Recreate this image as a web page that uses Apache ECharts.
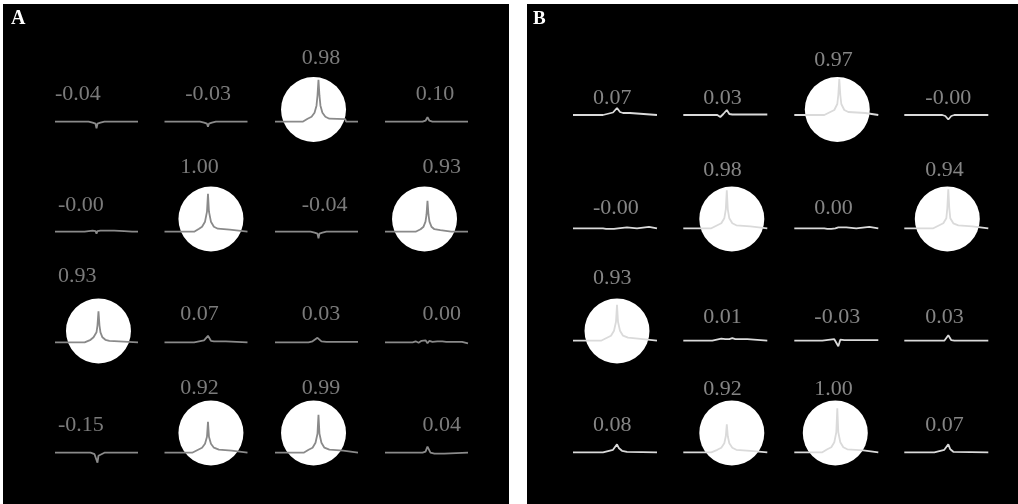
<!DOCTYPE html>
<html>
<head>
<meta charset="utf-8">
<script src="https://cdn.jsdelivr.net/npm/echarts@6/dist/echarts.min.js"></script>
<style>
  html, body { margin: 0; padding: 0; background: #fff; }
  #chart { width: 1018px; height: 504px; }
</style>
</head>
<body>
<div id="chart"></div>
<script>
// correlation printed above each trace, row by row (4 x 4)
var corrA = ['-0.04', '-0.03', '0.98', '0.10',
             '-0.00', '1.00', '-0.04', '0.93',
             '0.93', '0.07', '0.03', '0.00',
             '-0.15', '0.92', '0.99', '0.04'];
var corrB = ['0.07', '0.03', '0.97', '-0.00',
             '-0.00', '0.98', '0.00', '0.94',
             '0.93', '0.01', '-0.03', '0.03',
             '0.08', '0.92', '1.00', '0.07'];

// traces as [t, value] breakpoints, t runs 0..84 along the trace
var tracesA = [
  [[0,0],[34,0],[38,-1],[41,-2],[42,-6.5],[43,-2],[46,-1],[50,0],[84,0]],
  [[0,0],[36,0],[40,-1],[43,-2],[44,-5],[45,-2],[48,-1],[52,0],[84,0]],
  [[0,0],[28,0],[29,2],[33,3],[37,5],[40,9],[42,16],[43,26],[44,42],[45,26],[46,16],[48,9],[51,5],[55,3],[71,2.5],[72,0],[84,0]],
  [[0,0],[38,0],[41,1],[43,4.5],[45,1],[48,0],[84,0]],
  [[0,0],[30,0],[31,1],[38,1],[41,0.5],[42,-2],[43,0.5],[46,1],[60,1],[70,0.5],[78,0],[79,1.5],[81,0],[84,0]],
  [[0,0],[30,0],[31,2],[35,3],[38,5],[41,10],[43,20],[44,38],[45,20],[47,10],[50,5],[54,3],[66,2],[67,0],[84,0]],
  [[0,0],[36,0],[40,-1],[43,-2],[44,-6.5],[45,-2],[48,-1],[52,0],[78,0],[79,1],[81,0],[84,0]],
  [[0,0],[31,0],[32,1.5],[36,2.5],[39,5],[41,10],[42,17],[43,31],[44,17],[45,10],[47,5],[50,2.5],[56,1.5],[57,0],[67,0],[68,2],[70,0],[84,0]],
  [[0,0],[30,0],[31,1.5],[36,2.5],[39,5],[42,10],[43,17],[44,31],[45,17],[46,10],[48,5],[51,2.5],[55,1.5],[56,0],[84,0]],
  [[0,0],[30,0],[31,1],[40,2],[44,6.5],[47,1.5],[50,1],[62,1],[63,0],[84,0]],
  [[0,0],[34,0],[38,1],[43,4.5],[47,1],[52,0.5],[84,0.5]],
  [[0,0],[28,0],[31,1],[34,-0.5],[37,1.5],[39,0],[41,2],[43,-1],[45,1.5],[48,0.5],[53,1],[58,1],[62,0.5],[78,0.5],[80,-1],[84,-1]],
  [[0,0],[36,0],[40,-1.5],[42,-3],[43,-10],[44,-3],[46,-1.5],[50,0],[84,0]],
  [[0,0],[28,0],[29,2],[34,3],[38,5],[41,9],[43,16],[44,31],[45,16],[47,9],[50,5],[55,3],[68,2],[69,0],[84,0]],
  [[0,0],[29,0],[30,2],[34,3],[38,5],[41,10],[43,19],[44,38],[45,19],[47,10],[50,5],[55,3],[69,2],[70,0],[84,0]],
  [[0,0],[38,0],[41,1],[43,6],[46,0],[50,-1],[60,-1],[61,0],[84,0]]
];
var tracesB = [
  [[0,0],[30,0],[31,2],[40,2.5],[44,7],[47,3],[50,2],[57,2],[58,0],[84,0]],
  [[0,0],[34,0],[37,-2],[40,1],[43.5,5],[46,1],[49,0.5],[84,0.5]],
  [[0,0],[30,0],[31,2],[36,3],[40,5],[43,11],[44,20],[45,36],[46,20],[47,11],[50,5],[54,3],[71,2],[72,0],[84,0]],
  [[0,0],[38,0],[41,-1],[44,-4.5],[47,-1],[50,0],[84,0]],
  [[0,0],[30,0],[31,1.5],[33,-0.5],[35,1.5],[37,-0.5],[39,1.5],[41,-0.5],[43,1.5],[45,0],[47,1],[54,1],[55,0],[64,0],[65,1.5],[76,1.5],[77,-0.5],[78,0],[84,0]],
  [[0,0],[28,0],[29,2],[34,3],[38,5],[41,10],[42.5,19],[43.5,38],[44.5,19],[46,10],[49,5],[53,3],[67,2],[68,0],[84,0]],
  [[0,0],[30,0],[31,1.5],[33,-0.5],[35,1.5],[37,-0.5],[39,1.5],[41,0],[44,1],[52,1],[53,0],[62,0],[63,1.5],[75,1.5],[76,0],[84,0]],
  [[0,0],[29,0],[30,2],[35,3],[39,5],[42,10],[43,20],[44,39],[45,20],[46,10],[49,5],[54,3],[68,2],[69,0],[84,0]],
  [[0,0],[28,0],[29,2],[34,3],[38,5],[41,10],[43,19],[44,36],[45,19],[47,10],[50,5],[55,3],[65,2],[66,0],[84,0]],
  [[0,0],[29,0],[30,1.5],[38,2],[40,3.5],[42,1.5],[44,3],[46,1.5],[49,2.5],[52,1.5],[64,1.5],[65,-0.5],[66,0],[84,0]],
  [[0,0],[28,0],[29,1.5],[40,1.5],[44,-5.5],[46,1],[50,0.5],[84,0.5]],
  [[0,0],[40,0],[44,5.5],[47,0.5],[50,0],[75,0],[76,1.5],[77,0],[84,0]],
  [[0,0],[30,0],[31,2],[40,2.5],[44,8],[46,4],[49,1.5],[54,0.5],[84,0]],
  [[0,0],[28,0],[29,1.5],[34,2.5],[38,4.5],[41,9],[42.5,16],[43.5,28],[44.5,16],[46,9],[49,4.5],[53,2.5],[67,1.5],[68,0],[84,0]],
  [[0,0],[28,0],[29,2],[33,3],[37,5],[40,10],[42,20],[43,44],[44,20],[46,10],[49,5],[53,3],[69,2],[70,0],[84,0]],
  [[0,0],[30,0],[31,2],[40,2.5],[44,8],[46,3],[49,0.5],[84,0]]
];

// layout of the two panels (pixels)
var panels = [
  {
    corr: corrA, traces: tracesA, lineColor: '#8a8a8a', textColor: '#9a9a9a',
    lineLeft: [55, 164.5, 275, 385], lineWidth: 83,
    baseY: [121.7, 231.7, 342.3, 452.7],
    textY: [99, 210, 319, 430], textYCircle: [63, 172, 281, 393],
    textLeft: [[0, 21, 27, 31], [3, 16, 27, 38], [3, 16, 27, 38], [3, 16, 27, 38]],
    circleShift: [0, 3, -5, -3]
  },
  {
    corr: corrB, traces: tracesB, lineColor: '#dadada', textColor: '#a6a6a6',
    lineLeft: [573, 683.3, 794.3, 904.3], lineWidth: 84,
    baseY: [115, 228.3, 340.7, 452.3],
    textY: [102.7, 212.7, 321.7, 430], textYCircle: [65, 175, 283, 393.3],
    textLeft: [[20, 20, 20, 21], [20, 20, 20, 21], [20, 20, 20, 21], [20, 20, 20, 21]],
    circleShift: [0, 5, -2, -1]
  }
];
var circleY = [109.5, 219, 331, 433];

var grids = [];
var xAxes = [];
var yAxes = [];
var series = [];

panels.forEach(function (p) {
  for (var r = 0; r < 4; r++) {
    for (var c = 0; c < 4; c++) {
      var k = r * 4 + c;
      var base = p.baseY[r];
      var gi = grids.length;
      var strong = parseFloat(p.corr[k]) >= 0.5;
      grids.push({ left: p.lineLeft[c], top: base - 80, width: p.lineWidth, height: 120 });
      xAxes.push({ gridIndex: gi, type: 'value', min: 0, max: 84, show: false });
      yAxes.push({ gridIndex: gi, type: 'value', min: -40, max: 80, show: false });

      var trace = p.traces[k];
      if (strong) {
        var peak = trace[0];
        trace.forEach(function (pt) { if (pt[1] > peak[1]) peak = pt; });
        series.push({
          type: 'scatter', xAxisIndex: gi, yAxisIndex: gi, silent: true, z: 1,
          symbolSize: 65,
          itemStyle: { color: '#ffffff', opacity: 1, borderWidth: 0 },
          data: [[peak[0] + p.circleShift[c], base - circleY[r]]]
        });
      }
      series.push({
        type: 'line', xAxisIndex: gi, yAxisIndex: gi, silent: true, z: 3,
        showSymbol: false, symbol: 'none', clip: false,
        lineStyle: { color: p.lineColor, width: 1.8 },
        data: trace
      });
      // label lift above the baseline (value units = px)
      var ty = strong ? p.textYCircle[r] : p.textY[r];
      series.push({
        type: 'scatter', xAxisIndex: gi, yAxisIndex: gi, silent: true, z: 4,
        symbolSize: 1, itemStyle: { color: 'transparent' },
        label: {
          show: true, position: 'top', distance: 0, align: 'left',
          formatter: p.corr[k],
          fontFamily: 'Liberation Serif', fontSize: 22, color: p.textColor
        },
        data: [[p.textLeft[r][c], base - (ty + 7)]]
      });
    }
  }
});

var chart = echarts.init(document.getElementById('chart'));
chart.setOption({
  animation: false,
  backgroundColor: '#ffffff',
  graphic: [
    { type: 'rect', z: -10, shape: { x: 3, y: 4, width: 506, height: 500 }, style: { fill: '#000000' } },
    { type: 'rect', z: -10, shape: { x: 527, y: 4, width: 491, height: 500 }, style: { fill: '#000000' } }
  ],
  title: [
    { text: 'A', left: 11, top: 9, textStyle: { fontFamily: 'Liberation Serif', fontWeight: 'bold', fontSize: 20, color: '#ffffff' }, padding: 0 },
    { text: 'B', left: 533, top: 10, textStyle: { fontFamily: 'Liberation Serif', fontWeight: 'bold', fontSize: 19, color: '#ffffff' }, padding: 0 }
  ],
  grid: grids,
  xAxis: xAxes,
  yAxis: yAxes,
  series: series
});
</script>
</body>
</html>
